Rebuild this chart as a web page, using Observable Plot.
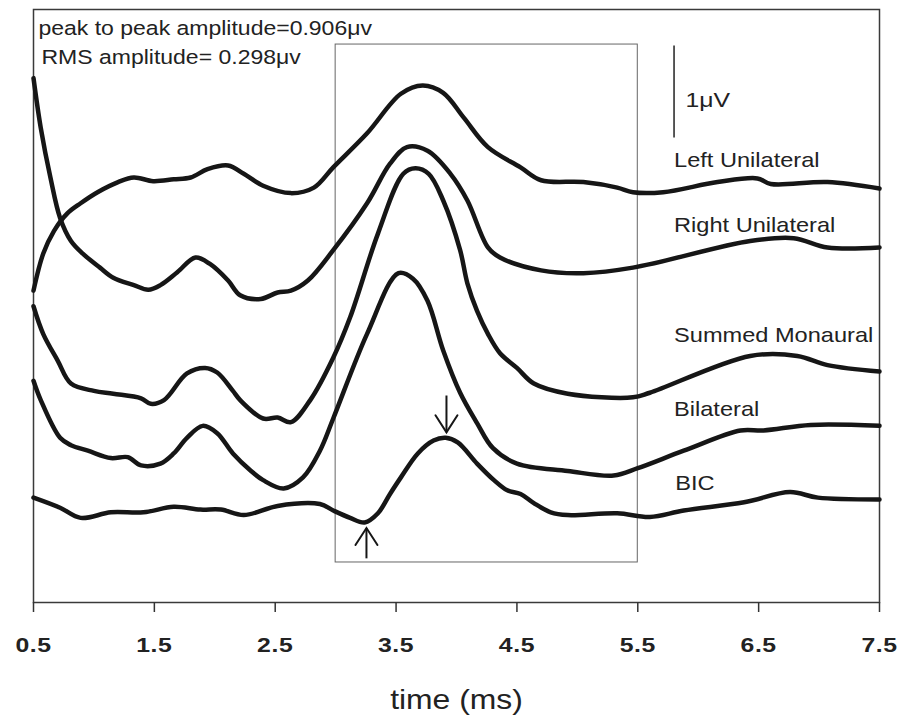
<!DOCTYPE html>
<html><head><meta charset="utf-8">
<script src="https://cdn.jsdelivr.net/npm/d3@7"></script>
<script src="https://cdn.jsdelivr.net/npm/@observablehq/plot@0.6"></script>
<style>
body{margin:0;background:#fff;}
#chart svg{display:block;}
#chart svg g[aria-label*="tick label"] text{letter-spacing:0.5px;font-size:21px !important;font-weight:bold !important;}
</style>
</head><body><div id="chart"></div>
<script>
// time (ms), amplitude (μV, offset per trace)
const leftUnilateral = [[0.50,3.39],[0.58,3.79],[0.67,4.04],[0.78,4.23],[0.89,4.34],[1.03,4.46],[1.20,4.57],[1.33,4.62],[1.49,4.58],[1.66,4.60],[1.80,4.62],[1.94,4.71],[2.11,4.75],[2.24,4.66],[2.40,4.53],[2.63,4.45],[2.82,4.51],[2.98,4.73],[3.26,5.10],[3.54,5.53],[3.72,5.62],[3.89,5.54],[4.06,5.27],[4.26,4.95],[4.53,4.73],[4.70,4.59],[5.05,4.57],[5.33,4.51],[5.46,4.46],[5.71,4.46],[6.16,4.57],[6.49,4.61],[6.60,4.55],[7.07,4.57],[7.50,4.50]];
const rightUnilateral = [[0.50,5.70],[0.56,5.16],[0.64,4.62],[0.72,4.18],[0.81,3.93],[0.91,3.79],[1.05,3.64],[1.16,3.53],[1.33,3.45],[1.45,3.40],[1.55,3.45],[1.69,3.59],[1.84,3.75],[1.96,3.68],[2.11,3.50],[2.21,3.34],[2.38,3.30],[2.52,3.37],[2.63,3.39],[2.77,3.50],[2.98,3.83],[3.26,4.34],[3.45,4.77],[3.59,4.95],[3.76,4.91],[3.95,4.66],[4.09,4.37],[4.26,3.86],[4.36,3.75],[4.70,3.61],[5.05,3.58],[5.46,3.64],[6.43,3.93],[6.79,3.96],[7.07,3.86],[7.50,3.86]];
const summedMonaural = [[0.50,3.22],[0.58,2.92],[0.70,2.63],[0.81,2.38],[1.00,2.30],[1.16,2.27],[1.39,2.22],[1.47,2.16],[1.58,2.20],[1.77,2.49],[1.92,2.55],[2.02,2.50],[2.15,2.30],[2.21,2.20],[2.40,2.00],[2.52,2.01],[2.63,1.96],[2.79,2.20],[2.98,2.66],[3.12,3.10],[3.35,4.01],[3.56,4.66],[3.66,4.72],[3.77,4.66],[3.89,4.37],[4.03,3.83],[4.09,3.47],[4.17,3.17],[4.26,2.92],[4.36,2.71],[4.50,2.55],[4.64,2.38],[4.92,2.27],[5.46,2.23],[5.60,2.28],[6.43,2.68],[6.82,2.68],[7.07,2.58],[7.50,2.51]];
const bilateral = [[0.50,2.41],[0.56,2.20],[0.72,1.79],[0.81,1.71],[0.95,1.65],[1.14,1.57],[1.28,1.58],[1.39,1.49],[1.55,1.51],[1.66,1.62],[1.77,1.79],[1.90,1.92],[2.02,1.84],[2.15,1.62],[2.30,1.43],[2.40,1.33],[2.57,1.24],[2.73,1.36],[2.87,1.65],[2.98,2.00],[3.26,2.92],[3.52,3.58],[3.64,3.52],[3.76,3.28],[3.89,2.74],[4.03,2.28],[4.17,1.95],[4.30,1.68],[4.50,1.51],[4.92,1.43],[5.30,1.38],[5.50,1.46],[5.88,1.65],[6.35,1.87],[6.54,1.87],[6.93,1.93],[7.50,1.92]];
const bic = [[0.50,1.14],[0.72,1.03],[0.89,0.92],[1.14,0.98],[1.41,0.98],[1.66,1.04],[1.88,1.01],[2.05,1.01],[2.24,0.95],[2.52,1.05],[2.87,1.07],[2.98,1.00],[3.12,0.92],[3.24,0.87],[3.35,0.97],[3.45,1.18],[3.54,1.36],[3.68,1.62],[3.81,1.76],[3.91,1.79],[4.01,1.74],[4.17,1.51],[4.31,1.33],[4.42,1.22],[4.53,1.18],[4.64,1.08],[4.78,0.98],[4.92,0.95],[5.33,0.97],[5.60,0.93],[5.88,1.00],[6.38,1.09],[6.76,1.20],[6.99,1.14],[7.50,1.12]];

const seriesNames = ["Left Unilateral","Right Unilateral","Summed Monaural","Bilateral","BIC"];
const seriesValues = [leftUnilateral, rightUnilateral, summedMonaural, bilateral, bic];
const labelT = [5.80, 5.80, 5.80, 5.80, 5.81];
const labelV = [4.80, 4.10, 2.90, 2.10, 1.29];

const tickValues = [0.5,1.5,2.5,3.5,4.5,5.5,6.5,7.5];
const tickLabels = ["0.5","1.5","2.5","3.5","4.5","5.5","6.5","7.5"];
const xLabel = "time (ms)";

const annotationTexts = ["peak to peak amplitude=0.906\u03bcv","RMS amplitude= 0.298\u03bcv"];
const annotationT = [0.541, 0.566];
const annotationV = [6.24, 5.92];

const windowT = [3.0, 5.5];
const windowV = [0.435, 6.065];

const scaleBarT = [5.80];
const scaleBarV = [5.05, 6.05];
const scaleBarLabel = "1\u03bcV";
const scaleBarLabelT = [5.895];
const scaleBarLabelV = [5.46];

const arrowT = [3.255, 3.917];
const arrowFrom = [0.48, 2.25];
const arrowTo = [0.81, 1.85];

// tables built from the arrays above
const traces = seriesNames.flatMap((name, i) => seriesValues[i].map(([t, v]) => ({series: name, t, v})));
const labels = seriesNames.map((name, i) => ({text: name, t: labelT[i], v: labelV[i]}));
const annotations = annotationTexts.map((text, i) => ({text, t: annotationT[i], v: annotationV[i]}));
const windowBox = [{x1: windowT[0], x2: windowT[1], y1: windowV[0], y2: windowV[1]}];
const scaleBar = [{t: scaleBarT[0], v1: scaleBarV[0], v2: scaleBarV[1]}];
const scaleBarText = [{text: scaleBarLabel, t: scaleBarLabelT[0], v: scaleBarLabelV[0]}];
const arrows = arrowT.map((t, i) => ({t, v1: arrowFrom[i], v2: arrowTo[i], rot: arrowTo[i] > arrowFrom[i] ? 0 : 180}));

// chevron arrowhead drawn at the arrow tip (pointing up before rotation)
const chevron = {
  draw(context) {
    context.moveTo(-11, 17);
    context.lineTo(0, 0);
    context.lineTo(11, 17);
  }
};

const plot = Plot.plot({
  width: 903,
  height: 718,
  marginLeft: 33,
  marginRight: 24,
  marginTop: 9,
  marginBottom: 116,
  x: {domain: [0.5, 7.5]},
  y: {domain: [0, 6.446], axis: null},
  style: {fontFamily: "'Liberation Sans', Arial, sans-serif", color: "#222", background: "#fff"},
  marks: [
    Plot.frame({stroke: "#3a3a3a", strokeWidth: 1.5}),
    Plot.rect(windowBox, {x1: "x1", x2: "x2", y1: "y1", y2: "y2", fill: "none", stroke: "#666", strokeWidth: 1}),
    Plot.ruleX(scaleBar, {x: "t", y1: "v1", y2: "v2", stroke: "#222", strokeWidth: 1.5}),
    Plot.line(traces, {x: "t", y: "v", z: "series", stroke: "#161616", strokeWidth: 4.5, curve: "catmull-rom", strokeLinejoin: "round", strokeLinecap: "round"}),
    Plot.link(arrows, {x1: "t", x2: "t", y1: "v1", y2: "v2", stroke: "#161616", strokeWidth: 2}),
    Plot.vector(arrows, {x: "t", y: "v2", rotate: "rot", length: 1, anchor: "start", shape: chevron, stroke: "#161616", strokeWidth: 2, strokeLinejoin: "miter"}),
    Plot.text(labels, {x: "t", y: "v", text: "text", textAnchor: "start", fontSize: 20, fill: "#222"}),
    Plot.text(annotations, {x: "t", y: "v", text: "text", textAnchor: "start", fontSize: 19.5, fill: "#222"}),
    Plot.text(scaleBarText, {x: "t", y: "v", text: "text", textAnchor: "start", fontSize: 21, fill: "#222"}),
    Plot.axisX({ticks: tickValues, tickFormat: d => tickLabels[tickValues.indexOf(d)], tickSize: 10, tickPadding: 25, fontSize: 21, fontWeight: "bold", label: null, stroke: "#333", strokeWidth: 1.5}),
    Plot.text([xLabel], {frameAnchor: "bottom", dy: 98, fontSize: 27, lineAnchor: "middle", fill: "#222"})
  ]
});

// widen glyphs horizontally to match the reference's stretched typography
plot.querySelectorAll("text").forEach(el => {
  if (el.hasAttribute("x")) return;
  const tr = el.getAttribute("transform") || "";
  el.setAttribute("transform", tr + " scale(1.18,1)");
});

document.getElementById("chart").appendChild(plot);
</script>
</body></html>
